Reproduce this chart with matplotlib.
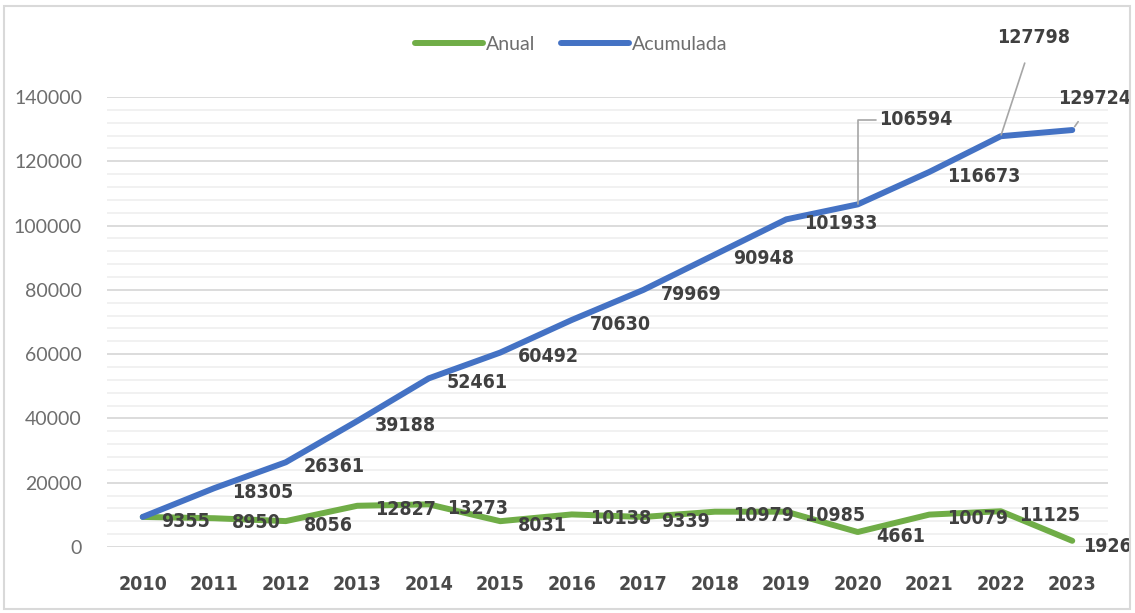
import matplotlib
matplotlib.use("Agg")
import matplotlib.pyplot as plt
from matplotlib.ticker import MultipleLocator
from matplotlib.patches import Rectangle

years = [2010, 2011, 2012, 2013, 2014, 2015, 2016, 2017, 2018, 2019, 2020, 2021, 2022, 2023]
anual = [9355, 8950, 8056, 12827, 13273, 8031, 10138, 9339, 10979, 10985, 4661, 10079, 11125, 1926]
acumulada = [9355, 18305, 26361, 39188, 52461, 60492, 70630, 79969, 90948, 101933, 106594, 116673, 127798, 129724]

GREEN = "#70AD47"
BLUE = "#4472C4"
LABEL_COLOR = "#404040"
AXIS_COLOR = "#6e6e6e"

W, H = 1135, 613
fig = plt.figure(figsize=(W / 100, H / 100), dpi=100)
fig.patches.append(Rectangle((4 / W, 4 / H), 1 - 9 / W, 1 - 10 / H, transform=fig.transFigure,
                             fill=False, edgecolor="#d9d9d9", linewidth=1.5))

# plot area in pixels: x 107..1108, y 97..547
ax = fig.add_axes([107 / W, (H - 547) / H, (1108 - 107) / W, (547 - 97) / H])
x = list(range(len(years)))
ax.plot(x, anual, color=GREEN, lw=4.3, solid_capstyle="round", label="Anual", zorder=3)
ax.plot(x, acumulada, color=BLUE, lw=4.3, solid_capstyle="round", label="Acumulada", zorder=3)

ax.set_xlim(-0.5, len(years) - 0.5)
ax.set_ylim(0, 140000)
ax.yaxis.set_major_locator(MultipleLocator(20000))
ax.yaxis.set_minor_locator(MultipleLocator(4000))
ax.grid(True, which="major", axis="y", color="#d9d9d9", lw=1.3, zorder=0)
ax.grid(True, which="minor", axis="y", color="#f0f0f0", lw=1.3, zorder=0)
for s in ax.spines.values():
    s.set_visible(False)
ax.tick_params(which="both", length=0)
ax.tick_params(axis="y", pad=18, labelsize=14, labelcolor=AXIS_COLOR)
ax.tick_params(axis="x", pad=20, labelsize=14, labelcolor="#4a4a4a")
ax.set_xticks(x)
ax.set_xticklabels([str(y) for y in years], fontstretch="condensed", fontweight="bold")
for t in ax.get_yticklabels():
    t.set_fontfamily("Lato")

lab_kw = dict(fontsize=14, color=LABEL_COLOR, fontstretch="condensed", fontweight="bold",
              va="center", ha="left", textcoords="offset points", zorder=4)

for i, v in enumerate(anual):
    off = (8, -4) if i == len(anual) - 1 else (13, -3)
    ax.annotate(str(v), (i, v), xytext=off, **lab_kw)

special = {10, 12, 13}
for i, v in enumerate(acumulada):
    if i == 0 or i in special:
        continue
    ax.annotate(str(v), (i, v), xytext=(13, -3), **lab_kw)

# labels with leader lines
ax.annotate(str(acumulada[10]), (10, acumulada[10]), xytext=(15, 61),
            arrowprops=dict(arrowstyle="-", color="#a6a6a6", lw=1.2,
                            connectionstyle="angle,angleA=0,angleB=90,rad=0",
                            shrinkA=0, shrinkB=0),
            **lab_kw)
ax.annotate(str(acumulada[12]), (12, acumulada[12]), xytext=(-3, 71),
            arrowprops=dict(arrowstyle="-", color="#a6a6a6", lw=1.2, shrinkA=10, shrinkB=1),
            **lab_kw)
ax.annotate(str(acumulada[13]), (13, acumulada[13]), xytext=(-10, 23),
            arrowprops=dict(arrowstyle="-", color="#a6a6a6", lw=1.2, shrinkA=10, shrinkB=3),
            **lab_kw)

leg = fig.legend(loc="center", bbox_to_anchor=(571 / W, 1 - 44 / H), ncol=2, frameon=False,
                 handlelength=3.5, handletextpad=0.15, columnspacing=1.3,
                 prop=dict(family="Lato", size=14))
for t in leg.get_texts():
    t.set_color(AXIS_COLOR)

fig.savefig("out.png", dpi=100)
